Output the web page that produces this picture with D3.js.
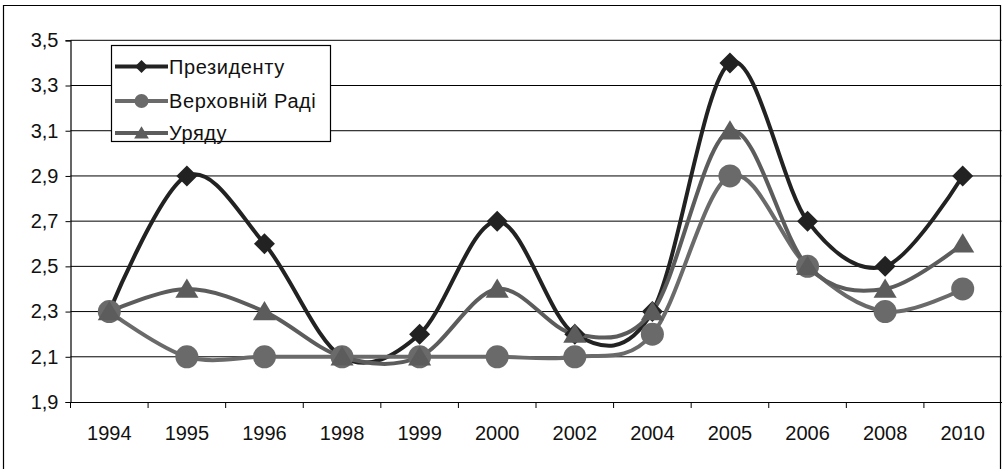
<!DOCTYPE html>
<html>
<head>
<meta charset="utf-8">
<script src="https://cdn.jsdelivr.net/npm/d3@7"></script>
<style>
  html, body { margin: 0; padding: 0; background: #fff; }
  svg { display: block; }
  text { font-family: "Liberation Sans", Arial, sans-serif; fill: #111; }
</style>
</head>
<body>
<svg id="chart" width="1002" height="469"></svg>
<script>
const categories = ["1994","1995","1996","1998","1999","2000","2002","2004","2005","2006","2008","2010"];
const president = [2.3, 2.9, 2.6, 2.1, 2.2, 2.7, 2.2, 2.3, 3.4, 2.7, 2.5, 2.9];
const rada      = [2.3, 2.1, 2.1, 2.1, 2.1, 2.1, 2.1, 2.2, 2.9, 2.5, 2.3, 2.4];
const uryad     = [2.3, 2.4, 2.3, 2.1, 2.1, 2.4, 2.2, 2.3, 3.1, 2.5, 2.4, 2.6];
const yTicks = [1.9, 2.1, 2.3, 2.5, 2.7, 2.9, 3.1, 3.3, 3.5];
const seriesNames = ["Президенту", "Верховній Раді", "Уряду"];

const series = [
  { name: seriesNames[0], values: president, color: "#222222", marker: "diamond" },
  { name: seriesNames[1], values: rada,      color: "#6a6a6a", marker: "circle" },
  { name: seriesNames[2], values: uryad,     color: "#5c5c5c", marker: "triangle" }
];

const svg = d3.select("#chart");
const plotLeft = 70.5, plotRight = 1001.5, plotTop = 40.3, plotBottom = 402;

// outer border
svg.append("path")
  .attr("d", `M3.5,469 V5.5 H1000.5 V469`)
  .attr("fill", "none").attr("stroke", "#000").attr("stroke-width", 1.2);

const x = d3.scaleBand().domain(categories).range([plotLeft, plotRight]).padding(0);
const y = d3.scaleLinear().domain([1.9, 3.5]).range([plotBottom, plotTop]);

// gridlines
svg.append("g").selectAll("line").data(yTicks.slice(1)).join("line")
  .attr("x1", plotLeft).attr("x2", plotRight)
  .attr("y1", d => y(d)).attr("y2", d => y(d))
  .attr("stroke", "#000").attr("stroke-width", 1);

// y axis
const yAxis = d3.axisLeft(y).tickValues(yTicks).tickSize(5).tickPadding(7)
  .tickFormat(d => d3.format(".1f")(d).replace(".", ","));
const gy = svg.append("g").attr("transform", `translate(${plotLeft},0)`).call(yAxis);
gy.select(".domain").attr("stroke", "#000").attr("stroke-width", 1.2);
gy.selectAll(".tick line").attr("stroke", "#000");
gy.selectAll(".tick text").style("font-size", "20px").attr("fill", "#111")
  .attr("font-family", "Liberation Sans, Arial, sans-serif");

// x axis
const xAxis = d3.axisBottom(x).tickSize(0).tickPadding(24);
const gx = svg.append("g").attr("transform", `translate(0,${plotBottom})`).call(xAxis);
gx.select(".domain").attr("stroke", "#000").attr("stroke-width", 1.2);
gx.selectAll(".tick text").style("font-size", "20px").attr("fill", "#111")
  .attr("font-family", "Liberation Sans, Arial, sans-serif");
// tick marks at band boundaries
const bounds = categories.map(c => x(c));
gx.append("g").selectAll("line").data(bounds).join("line")
  .attr("x1", d => d).attr("x2", d => d)
  .attr("y1", 0).attr("y2", 6)
  .attr("stroke", "#000").attr("stroke-width", 1);

const cx = c => x(c) + x.bandwidth() / 2;
const line = d3.line().curve(d3.curveCatmullRom.alpha(0))
  .x((d, i) => cx(categories[i])).y(d => y(d));

function markerPath(type, s) {
  if (type === "diamond") return `M0,${-s}L${s},0L0,${s}L${-s},0Z`;
  if (type === "triangle") { const h = s * 1.75; return `M0,${-h*0.55}L${s*1.05},${h*0.45}L${-s*1.05},${h*0.45}Z`; }
  return null;
}
function drawMarker(g, type, px, py, s, color) {
  if (type === "circle") {
    g.append("circle").attr("cx", px).attr("cy", py).attr("r", s).attr("fill", color);
  } else {
    g.append("path").attr("d", markerPath(type, s))
      .attr("transform", `translate(${px},${py})`).attr("fill", color);
  }
}

const plot = svg.append("g");
series.forEach(sr => {
  plot.append("path").datum(sr.values).attr("d", line)
    .attr("fill", "none").attr("stroke", sr.color).attr("stroke-width", 4)
    .attr("stroke-linejoin", "round");
});
series.forEach(sr => {
  const g = plot.append("g");
  const size = sr.marker === "diamond" ? 10.5 : (sr.marker === "circle" ? 11.5 : 11);
  sr.values.forEach((v, i) => drawMarker(g, sr.marker, cx(categories[i]), y(v), size, sr.color));
});

// legend
const lg = svg.append("g");
lg.append("rect").attr("x", 111.5).attr("y", 45.5).attr("width", 219).attr("height", 96)
  .attr("fill", "#fff").attr("stroke", "#000").attr("stroke-width", 1.2);
const rowY = [66.5, 101, 133];
series.forEach((sr, i) => {
  lg.append("line").attr("x1", 115).attr("x2", 168).attr("y1", rowY[i]).attr("y2", rowY[i])
    .attr("stroke", sr.color).attr("stroke-width", 4);
  const s = sr.marker === "diamond" ? 6.5 : (sr.marker === "circle" ? 7 : 7);
  drawMarker(lg, sr.marker, 141.5, rowY[i], s, sr.color);
  lg.append("text").attr("x", 169).attr("y", rowY[i]).attr("dy", "0.36em")
    .style("font-size", "20px").style("letter-spacing", "0.6px").text(sr.name);
});
</script>
</body>
</html>
